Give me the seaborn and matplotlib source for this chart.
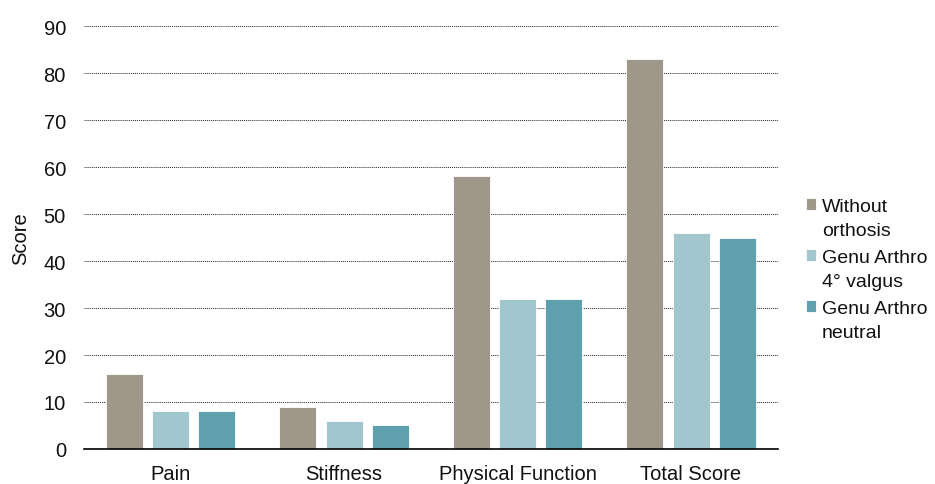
import matplotlib
matplotlib.use("Agg")
import matplotlib.pyplot as plt
import seaborn as sns
import pandas as pd

categories = ["Pain", "Stiffness", "Physical Function", "Total Score"]
series_names = ["Without\northosis", "Genu Arthro\n4° valgus", "Genu Arthro\nneutral"]
without_orthosis = [16, 9, 58, 83]
valgus_4 = [8, 6, 32, 46]
neutral = [8, 5, 32, 45]
colors = ["#9f978a", "#a2c6ce", "#5fa0af"]
y_ticks = [0, 10, 20, 30, 40, 50, 60, 70, 80, 90]

rows = []
for name, vals in zip(series_names, [without_orthosis, valgus_4, neutral]):
    for cat, v in zip(categories, vals):
        rows.append({"Category": cat, "Series": name, "Score": v})
df = pd.DataFrame(rows)

sns.set_theme(style="white")
plt.rcParams["font.family"] = ["Liberation Sans", "DejaVu Sans"]

FS = 14.5
fig = plt.figure(figsize=(9.35, 4.85), dpi=100)
ax = fig.add_axes([0.0898, 0.0722, 0.742, 0.872])

sns.barplot(data=df, x="Category", y="Score", hue="Series", order=categories,
            hue_order=series_names, palette=colors, width=0.8, gap=0.2,
            saturation=1, ax=ax, legend=True, edgecolor="white", linewidth=0.6)

ax.set_xlim(-0.5, 3.5)
ax.set_ylim(0, 90)
ax.set_yticks(y_ticks)
ax.yaxis.grid(True, linestyle=(0, (1, 1)), color="#222222", linewidth=0.7)
ax.set_axisbelow(True)
for s in ["top", "right", "left"]:
    ax.spines[s].set_visible(False)
ax.spines["bottom"].set_color("black")
ax.spines["bottom"].set_linewidth(1.2)
ax.tick_params(axis="both", which="both", length=0, labelsize=FS, colors="#111111")
ax.tick_params(axis="y", pad=13)
ax.tick_params(axis="x", pad=10.5)
ax.set_xlabel("")
ax.set_ylabel("Score", fontsize=FS, color="#111111", labelpad=10)

handles, labels = ax.get_legend_handles_labels()
leg = ax.legend(handles, labels, loc="center left", bbox_to_anchor=(1.015, 0.425),
                frameon=False, fontsize=14, handlelength=0.55, handleheight=0.55,
                handletextpad=0.3, labelspacing=0.5)
for t in leg.get_texts():
    t.set_color("#111111")
    t.set_linespacing(1.55)
# line each square up with the first line of its label
for p in leg.get_patches():
    p.set_y(p.get_y() + 10)

fig.savefig("out.png", dpi=100)
